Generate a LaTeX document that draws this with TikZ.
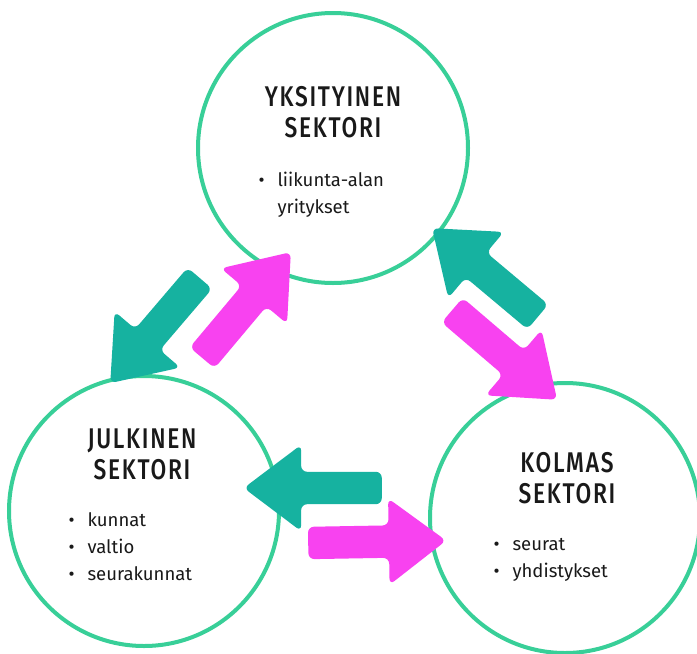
\documentclass[tikz,border=0pt]{standalone}
\usepackage{fontspec}
\setmainfont{Fira Sans}
\newfontfamily\otsikkofont[FakeStretch=0.8, LetterSpace=6, UprightFont={* Medium}]{Fira Sans}
\usepackage{xcolor}
\usepackage{tikz}
\usetikzlibrary{shapes.arrows}

\definecolor{minttu}{RGB}{56,207,152}
\definecolor{turkoosi}{RGB}{22,178,160}
\definecolor{pinkki}{RGB}{248,66,240}

\newcommand{\kohta}[1]{\makebox[19pt][l]{\textbullet}#1}

\begin{document}
\begin{tikzpicture}[
    x=1pt, y=-1pt,
    ympyra/.style={draw=minttu, line width=4pt, circle, fill=white,
                   minimum size=270pt, inner sep=0pt},
    otsikko/.style={align=center, text=black!90,
                    font=\otsikkofont\fontsize{28.5}{31}\selectfont},
    lista/.style={align=left, anchor=west, text=black!90,
                  font=\fontsize{18.5}{27}\selectfont},
    nuoli/.style={single arrow, draw=none, rounded corners=6pt, anchor=tail,
                  inner xsep=0pt, inner ysep=16pt,
                  minimum height=138pt, minimum width=86pt,
                  single arrow head extend=27pt, single arrow tip angle=74}
  ]
    \fill[white] (0,0) rectangle (697,654);
    \useasboundingbox (0,0) rectangle (697,654);

    \node[ympyra] (yksityinen) at (333,148) {};
    \node[ympyra] (julkinen) at (144,511) {};
    \node[ympyra] (kolmas) at (565,518) {};

    % nuolet sektorien valilla, sijoitettu hannasta
    \node[nuoli, fill=turkoosi, rotate=229.5] (jy) at (200,278) {};
    \node[nuoli, fill=pinkki, rotate=50] (yj) at (202,358) {};
    \node[nuoli, fill=turkoosi, rotate=140] (ky) at (538,317) {};
    \node[nuoli, fill=pinkki, rotate=-40.5] (yk) at (452,310) {};
    \node[nuoli, fill=turkoosi, rotate=180] (kj) at (382,488) {};
    \node[nuoli, fill=pinkki, rotate=1] (jk) at (308,543) {};

    \node[otsikko] (yks-ots) at (333,112.5) {YKSITYINEN\\SEKTORI};
    \node[otsikko] (jul-ots) at (142,454) {JULKINEN\\SEKTORI};
    \node[otsikko] (kol-ots) at (567,478.5) {KOLMAS\\SEKTORI};

    \node[lista] (yks-lista) at (255,195) {\kohta{liikunta-alan}\\\hspace*{19pt}yritykset};
    \node[lista] (jul-lista) at (65,547) {\kohta{kunnat}\\\kohta{valtio}\\\kohta{seurakunnat}};
    \node[lista] (kol-lista) at (490,560) {\kohta{seurat}\\\kohta{yhdistykset}};
  \end{tikzpicture}
\end{document}
